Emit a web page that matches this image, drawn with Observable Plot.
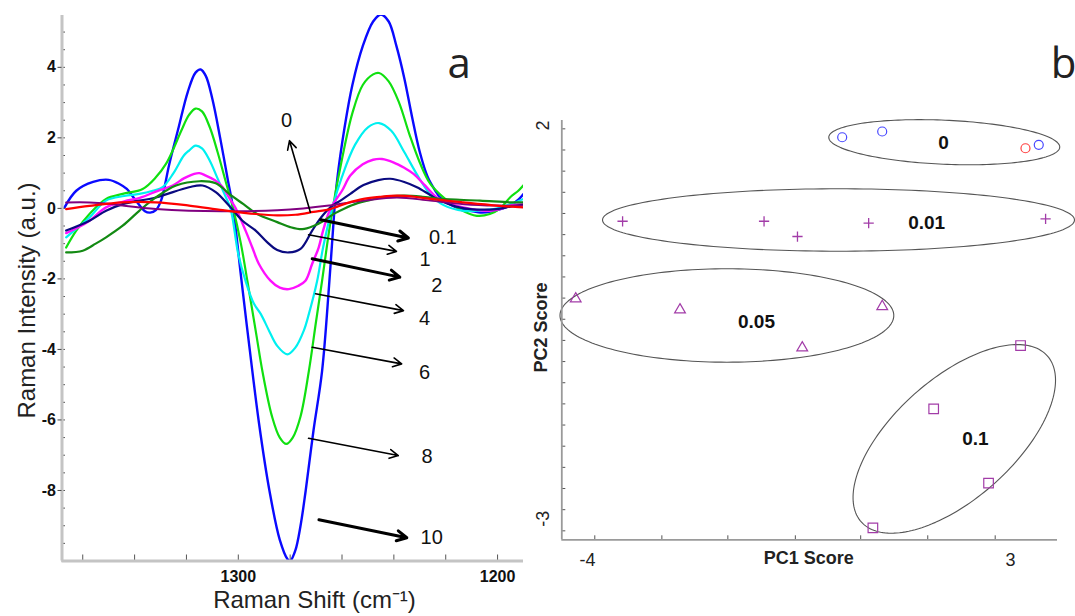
<!DOCTYPE html>
<html><head><meta charset="utf-8">
<script src="https://cdn.jsdelivr.net/npm/d3@7"></script>
<script src="https://cdn.jsdelivr.net/npm/@observablehq/plot@0.6"></script>
<style>
html,body{margin:0;padding:0;background:#fff;}
#wrap{position:relative;width:1075px;height:616px;overflow:hidden;background:#fff;}
#pa{position:absolute;left:0;top:0;}
#pb{position:absolute;left:530px;top:0;}
</style></head><body>
<div id="wrap"><div id="pa"></div><div id="pb"></div></div>
<script>
// ---------------- Panel a data: [Raman shift (cm-1), intensity (a.u.)] ----------------
const curve10 = [[1367,0.03],[1362.5,0.5],[1356,0.75],[1350,0.81],[1346,0.7],[1343,0.55],[1339.5,0.22],[1336,-0.08],[1334,-0.12],[1331.8,-0.05],[1329.8,0.22],[1326.6,1.26],[1323,2.3],[1319.5,3.3],[1316.5,3.85],[1314.5,3.94],[1312.5,3.75],[1310,3.1],[1307,2.0],[1304,0.79],[1302,0],[1299,-1.9],[1295.6,-4.0],[1292,-6.1],[1288,-8.0],[1284,-9.4],[1281,-9.95],[1280,-10.0],[1278,-9.7],[1276,-9.0],[1274,-8.0],[1271,-6.3],[1267.7,-4.62],[1265,-2.2],[1262.9,0],[1261.9,0.79],[1259,2.3],[1256,3.5],[1252,4.6],[1248,5.3],[1245,5.5],[1242,5.3],[1239,4.6],[1236,3.7],[1233,2.6],[1230,1.6],[1227,0.9],[1224,0.5],[1222.2,0.31],[1218,0.1],[1214,-0.02],[1210.6,-0.07],[1206,-0.12],[1202,-0.08],[1198,0],[1195.2,0.08],[1192,0.25],[1190,0.41]];
const curve8 = [[1366.4,-1.11],[1362.5,-0.63],[1357.4,-0.16],[1351,0.27],[1344.6,0.41],[1336.9,0.55],[1331.8,0.88],[1327.9,1.26],[1325.3,1.64],[1322,2.2],[1319,2.65],[1316.5,2.83],[1314,2.75],[1311,2.3],[1308,1.6],[1305,0.8],[1302,0],[1299,-1.0],[1296.5,-2.06],[1293,-3.6],[1290.7,-4.62],[1287,-5.9],[1284,-6.5],[1281.5,-6.68],[1279,-6.5],[1276,-5.9],[1272.8,-4.62],[1270,-3.2],[1267.7,-2.06],[1265.5,-0.9],[1263.6,0],[1260,1.4],[1256,2.7],[1252,3.5],[1248,3.8],[1245.7,3.84],[1242,3.6],[1238,3.0],[1234,2.1],[1230,1.3],[1226,0.7],[1220.9,0.31],[1214,-0.05],[1208,-0.21],[1203,-0.16],[1199,0.0],[1195.2,0.31],[1192,0.5],[1190.1,0.65]];
const curve6 = [[1366.4,-0.82],[1362,-0.55],[1357.4,-0.26],[1351,0.22],[1344,0.35],[1338.2,0.41],[1333,0.5],[1329.2,0.6],[1325,1.0],[1321,1.5],[1319,1.64],[1316.5,1.78],[1314,1.7],[1311,1.35],[1308,0.85],[1305,0.35],[1303,0],[1300,-1.3],[1297.2,-2.06],[1294,-2.7],[1291.3,-3.0],[1288.2,-3.46],[1285,-3.9],[1281.1,-4.14],[1278,-3.95],[1274.7,-3.46],[1272.8,-3.0],[1269.6,-2.06],[1267.3,-1.11],[1263.8,0],[1260,0.9],[1255,1.8],[1250,2.3],[1245.7,2.42],[1241,2.2],[1236,1.6],[1231,0.95],[1226,0.4],[1221,0.1],[1213,-0.07],[1205,-0.05],[1200,0],[1195,0.12],[1190,0.27]];
const curve4 = [[1366.4,-0.7],[1362,-0.55],[1357.4,-0.35],[1351,0.03],[1344,0.2],[1338,0.3],[1331,0.5],[1325.3,0.65],[1321,0.85],[1317,0.98],[1315,1.0],[1312.5,0.93],[1309,0.8],[1306,0.6],[1303.5,0.3],[1301,0],[1297.2,-0.63],[1294.6,-1.11],[1292.1,-1.57],[1287.6,-2.05],[1284,-2.25],[1280.5,-2.29],[1277,-2.2],[1274.1,-2.05],[1271.5,-1.57],[1269,-1.11],[1267.3,-0.63],[1264.4,0],[1260,0.5],[1256.8,0.93],[1252,1.25],[1248,1.38],[1244.6,1.4],[1240,1.3],[1236,1.15],[1232.4,0.98],[1228,0.65],[1223.4,0.31],[1218,0.12],[1213.2,0.03],[1207,-0.05],[1202.9,-0.07],[1198,0],[1195.2,0.08],[1190.1,0.12]];
const curve2 = [[1366.4,-0.63],[1357.4,-0.35],[1351,-0.07],[1344.6,0.12],[1331.8,0.31],[1319,0.6],[1313.8,0.65],[1308.7,0.46],[1303.6,0.08],[1298.4,-0.35],[1293.3,-0.63],[1289,-0.95],[1285,-1.18],[1280.5,-1.25],[1276,-1.15],[1271.5,-0.63],[1268,-0.25],[1264.5,0.03],[1260,0.25],[1256.8,0.41],[1251.7,0.66],[1246,0.8],[1241.4,0.84],[1236,0.75],[1231.1,0.6],[1226,0.38],[1222.2,0.22],[1216,0.05],[1210.6,-0.02],[1200.5,-0.02],[1195,0.05],[1190,0.1]];
const curve1 = [[1366.4,-1.25],[1360,-1.2],[1355,-1.0],[1351,-0.82],[1344.6,-0.49],[1338.2,-0.07],[1331.8,0.31],[1324,0.65],[1315,0.77],[1308.7,0.71],[1303,0.38],[1298,0.12],[1292.7,-0.16],[1285,-0.39],[1280,-0.53],[1275.3,-0.59],[1271,-0.5],[1267,-0.35],[1263,-0.15],[1259,0.0],[1254,0.15],[1249,0.24],[1245.2,0.31],[1236.3,0.36],[1229,0.33],[1222.2,0.27],[1206.8,0.22],[1195.2,0.17],[1190,0.17]];
const curve01 = [[1366.4,-0.02],[1357.4,0.07],[1344.6,0.17],[1331.8,0.17],[1319,0.08],[1306,-0.05],[1293.3,-0.16],[1285,-0.2],[1278,-0.18],[1271,-0.1],[1264.5,-0.02],[1258,0.15],[1251.7,0.27],[1245,0.33],[1238.8,0.36],[1232,0.33],[1226,0.27],[1213.2,0.17],[1200.5,0.08],[1190.1,0.03]];
const curve0 = [[1366.4,0.17],[1357.4,0.17],[1350,0.13],[1344.6,0.08],[1331.8,-0.02],[1319,-0.07],[1300,-0.08],[1285,-0.05],[1275,0.0],[1265,0.08],[1251.7,0.22],[1238.8,0.31],[1226,0.22],[1213,0.12],[1200.5,0.08],[1190,0.08]];

// annotation arrows (data coordinates) and concentration labels
const concLabels = ["0", "0.1", "1", "2", "4", "6", "8", "10"];
const arrowX1 = [1272.2, 1268.2, 1272.9, 1271.5, 1270.2, 1271.5, 1272.9, 1268.9];
const arrowY1 = [-0.11, -0.32, -0.75, -1.43, -2.42, -3.94, -6.52, -8.83];
const arrowX2 = [1280.25, 1234.4, 1239.0, 1237.7, 1236.3, 1237.0, 1238.3, 1235.0];
const arrowY2 = [1.92, -0.84, -1.22, -1.95, -2.90, -4.41, -7.01, -9.34];
const arrowThick = [false, true, false, true, false, false, false, true];
const labelX = [1281.4, 1221.1, 1228.0, 1223.4, 1228.2, 1228.2, 1227.2, 1225.4];
const labelY = [2.49, -0.84, -1.44, -2.19, -3.13, -4.65, -7.05, -9.35];

const xDomainA = [1368, 1190];
const yDomainA = [-10, 5.47];
const xTicksA = [1300, 1200];
const yTicksA = [4, 2, 0, -2, -4, -6, -8];
const xMinorA = [1360, 1340, 1320, 1300, 1280, 1260, 1240, 1220, 1200];
const yMinorA = d3.range(-10, 5.5, 0.5);

// ---------------- Panel b data: [PC1 score, PC2 score] ----------------
const grp0Blue = [[0.215, 1.851], [0.877, 1.924], [3.468, 1.755]];
const grp0Red = [[3.248, 1.711]];
const grp001 = [[-3.419, 0.783], [-1.078, 0.783], [-0.525, 0.589], [0.653, 0.758], [3.581, 0.814]];
const grp005 = [[-4.195, -0.203], [-2.469, -0.343], [0.878, -0.301], [-0.446, -0.826]];
const grp01 = [[3.167, -0.797], [1.729, -1.602], [2.637, -2.547], [0.723, -3.115]];
// ellipses: [cx, cy, ux, uy, vx, vy] (centre, half-major and half-minor vectors)
const ellipse0 = [1.904, 1.788, 1.911, -0.0636, -0.0157, -0.2797];
const ellipse001 = [0.154, 0.799, 3.905, 0, 0, 0.397];
const ellipse005 = [-1.693, -0.415, 2.762, 0, 0, 0.594];
const ellipse01 = [2.07, -1.984, 1.539, 1.056, 0.662, -0.568];
const groupNames = ["0", "0.01", "0.05", "0.1"];
const groupX = [1.891, 1.613, -1.203, 2.42];
const groupY = [1.775, 0.758, -0.5, -1.983];

const xDomainB = [-4.425, 3.778];
const yDomainB = [-3.267, 2.064];
const xTickLabelsB = [-4, 3];
const yTickLabelsB = [2, -3];
const xTicksB = [-3.879, -2.769, -1.677, -0.560, 0.521, 1.631, 2.747];
const yTicksB = [1.958, 1.689, 1.420, 1.151, 0.882, 0.613, 0.344, 0.075, -0.194, -0.463, -0.732, -1.001, -1.270, -1.539, -1.808, -2.077, -2.346, -2.615, -2.884, -3.153];

// ---------------- Panel a ----------------
const fontA = "'Liberation Sans', Arial, Helvetica, sans-serif";
const wA = 530, hA = 616, mLA = 61.5, mRA = 7, mTA = 15, mBA = 55.5;
const fWA = wA - mLA - mRA, fHA = hA - mTA - mBA;
const seriesA = [
  [curve10, "#0a0aff", 2.4],
  [curve8, "#10e010", 2.2],
  [curve6, "#00f0f0", 2.2],
  [curve4, "#ff10ff", 2.4],
  [curve2, "#0a0a80", 2.2],
  [curve1, "#138a13", 2.2],
  [curve0, "#800080", 2.0],
  [curve01, "#ff0000", 2.2]
];
const idxThin = d3.range(8).filter(i => !arrowThick[i]);
const idxThick = d3.range(8).filter(i => arrowThick[i]);

const plotA = Plot.plot({
  width: wA, height: hA, marginLeft: mLA, marginRight: mRA, marginTop: mTA, marginBottom: mBA,
  style: {fontFamily: fontA, background: "transparent", color: "#111", overflow: "visible"},
  x: {domain: xDomainA, axis: null},
  y: {domain: yDomainA, axis: null},
  marks: [
    ...seriesA.map(([pts, color, sw]) => Plot.line(pts, {x: d => d[0], y: d => d[1], stroke: color, strokeWidth: sw, curve: "catmull-rom", clip: true})),
    Plot.ruleY(yMinorA, {y: d => d, insetRight: fWA - 3.5, stroke: "#555", strokeWidth: 1}),
    Plot.ruleX(xMinorA, {x: d => d, insetTop: fHA - 6, stroke: "#555", strokeWidth: 1}),
    Plot.ruleX([xDomainA[0]], {stroke: "#c4c4c4", strokeWidth: 3}),
    Plot.ruleY([yDomainA[0]], {stroke: "#c4c4c4", strokeWidth: 3}),
    Plot.ruleY(yTicksA, {y: d => d, insetLeft: -4, insetRight: fWA, stroke: "#444", strokeWidth: 1}),
    Plot.text(yTicksA, {y: d => d, frameAnchor: "left", dx: -6, textAnchor: "end", text: d => String(d), fontSize: 16, fontWeight: "bold", fill: "#111", lineAnchor: "middle"}),
    Plot.text(xTicksA, {x: d => d, frameAnchor: "bottom", dy: 16, textAnchor: "middle", text: d => String(d), fontSize: 16, fontWeight: "bold", fill: "#111", lineAnchor: "middle"}),
    Plot.arrow(idxThin, {x1: i => arrowX1[i], y1: i => arrowY1[i], x2: i => arrowX2[i], y2: i => arrowY2[i], stroke: "#000", strokeWidth: 1.6, headLength: 9, headAngle: 55}),
    Plot.arrow(idxThick, {x1: i => arrowX1[i], y1: i => arrowY1[i], x2: i => arrowX2[i], y2: i => arrowY2[i], stroke: "#000", strokeWidth: 3, headLength: 5.5, headAngle: 55}),
    Plot.text(concLabels, {x: (d, i) => labelX[i], y: (d, i) => labelY[i], text: d => d, fontSize: 20, fill: "#111", lineAnchor: "middle"}),
    Plot.text(["Raman Intensity (a.u.)"], {frameAnchor: "left", textAnchor: "middle", dx: -34.5, dy: 12.25, rotate: -90, fontSize: 24, fill: "#222", lineAnchor: "middle"}),
    Plot.text(["Raman Shift (cm\u207B\u00B9)"], {frameAnchor: "bottom", textAnchor: "middle", dx: 21.75, dy: 39.5, fontSize: 24, fill: "#222", lineAnchor: "middle"}),
    Plot.text(["a"], {frameAnchor: "top-right", dx: -64.3, dy: 62, textAnchor: "middle", lineAnchor: "bottom", fontSize: 42, fontFamily: "'Open Sans', sans-serif", fill: "#222"})
  ]
});
document.getElementById("pa").appendChild(plotA);

// ---------------- Panel b ----------------
const wB = 545, hB = 616, mLB = 31.3, mRB = 18, mTB = 120, mBB = 76.7;
const fWB = wB - mLB - mRB, fHB = hB - mTB - mBB;
function ellipsePts(e) {
  return d3.range(0, 181).map(k => {
    const t = k / 180 * 2 * Math.PI;
    return [e[0] + e[2] * Math.cos(t) + e[4] * Math.sin(t), e[1] + e[3] * Math.cos(t) + e[5] * Math.sin(t)];
  });
}
const purple = "#a23ca8";
const plotB = Plot.plot({
  width: wB, height: hB, marginLeft: mLB, marginRight: mRB, marginTop: mTB, marginBottom: mBB,
  style: {fontFamily: fontA, background: "transparent", color: "#111", overflow: "visible"},
  x: {domain: xDomainB, axis: null},
  y: {domain: yDomainB, axis: null},
  marks: [
    ...[ellipse0, ellipse001, ellipse005, ellipse01].map(e => Plot.line(ellipsePts(e), {x: d => d[0], y: d => d[1], stroke: "#555", strokeWidth: 1.1})),
    Plot.ruleY(yTicksB, {y: d => d, insetRight: fWB - 4, stroke: "#555", strokeWidth: 1}),
    Plot.ruleX(xTicksB, {x: d => d, insetTop: fHB - 4, stroke: "#555", strokeWidth: 1}),
    Plot.ruleX([xDomainB[0]], {stroke: "#9a9a9a", strokeWidth: 1.8}),
    Plot.ruleY([yDomainB[0]], {stroke: "#9a9a9a", strokeWidth: 1.8}),
    Plot.dot(grp0Blue, {x: d => d[0], y: d => d[1], r: 4.5, stroke: "#4848ff", strokeWidth: 1.2, fill: "none"}),
    Plot.dot(grp0Red, {x: d => d[0], y: d => d[1], r: 4.5, stroke: "#ff4040", strokeWidth: 1.2, fill: "none"}),
    Plot.dot(grp001, {x: d => d[0], y: d => d[1], symbol: "plus", r: 3.4, stroke: purple, strokeWidth: 1.3, fill: "none"}),
    Plot.dot(grp005, {x: d => d[0], y: d => d[1], symbol: "triangle", r: 4, stroke: purple, strokeWidth: 1.2, fill: "none"}),
    Plot.dot(grp01, {x: d => d[0], y: d => d[1], symbol: "square", r: 5.4, stroke: purple, strokeWidth: 1.2, fill: "none"}),
    Plot.text(groupNames, {x: (d, i) => groupX[i], y: (d, i) => groupY[i], text: d => d, fontSize: 19, fontWeight: "bold", fill: "#111", lineAnchor: "middle"}),
    Plot.text(xTickLabelsB, {x: d => d, frameAnchor: "bottom", textAnchor: "middle", dy: 20, text: d => String(d), fontSize: 18, fill: "#222", lineAnchor: "middle"}),
    Plot.text(yTickLabelsB, {y: d => d, frameAnchor: "left", textAnchor: "middle", dx: -19, rotate: -90, text: d => String(d), fontSize: 18, fill: "#222", lineAnchor: "middle"}),
    Plot.text(["PC1 Score"], {frameAnchor: "bottom", textAnchor: "middle", dx: -1, dy: 18, fontSize: 18, fontWeight: "bold", fill: "#222", lineAnchor: "middle"}),
    Plot.text(["PC2 Score"], {frameAnchor: "left", textAnchor: "middle", dx: -20.3, dy: -2.6, rotate: -90, fontSize: 18, fontWeight: "bold", fill: "#222", lineAnchor: "middle"}),
    Plot.text(["b"], {frameAnchor: "top-right", dx: 6, dy: -43, textAnchor: "middle", lineAnchor: "bottom", fontSize: 42, fontFamily: "'Open Sans', sans-serif", fill: "#222"})
  ]
});
document.getElementById("pb").appendChild(plotB);
</script>
</body></html>
